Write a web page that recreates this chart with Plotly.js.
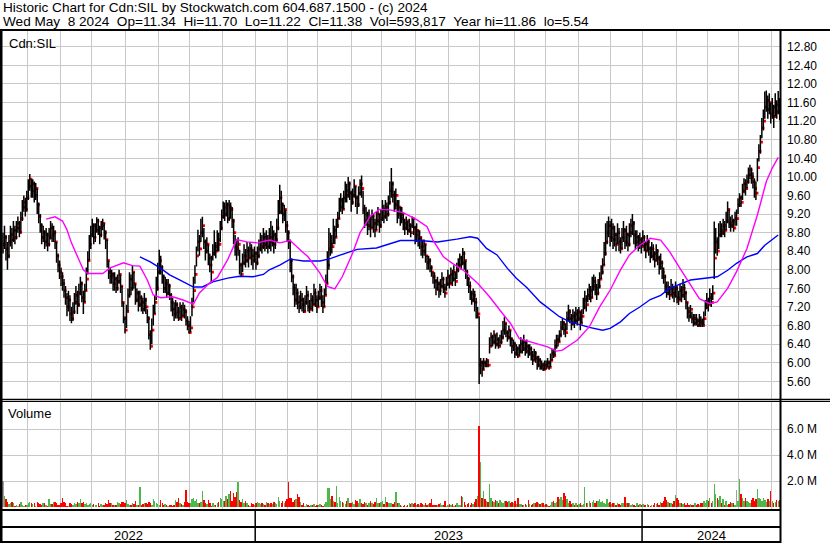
<!DOCTYPE html>
<html><head><meta charset="utf-8">
<script src="https://cdn.plot.ly/plotly-3.0.1.min.js"></script>
<style>html,body{margin:0;padding:0;background:#fff;}#chart{width:830px;height:543px;}</style>
</head><body><div id="chart"></div>
<script>
const startDate = '2022-05-09';
const endDate = '2024-05-08';
const symbol = 'Cdn:SIL';
const headerLine1 = 'Historic Chart for Cdn:SIL by Stockwatch.com 604.687.1500 - (c) 2024';
const headerLine2 = 'Wed May  8 2024  Op=11.34  Hi=11.70  Lo=11.22  Cl=11.38  Vol=593,817  Year hi=11.86  lo=5.54';

const closes = [
8.55,8.70,8.45,8.30,8.60,8.75,8.65,8.85,8.70,8.90,9.00,8.80,9.10,9.35,9.45,9.30,9.55,9.80,9.95,9.70,
9.85,9.60,9.75,9.40,9.15,8.95,8.70,8.80,8.60,8.75,8.55,8.70,8.90,8.75,8.80,8.60,8.30,8.10,7.95,7.85,
7.70,7.55,7.40,7.20,7.35,7.05,6.95,7.10,7.30,7.45,7.25,7.50,7.70,7.40,7.30,7.55,7.80,8.20,8.55,8.75,
8.95,8.70,8.85,9.05,8.90,8.75,8.95,9.00,8.80,8.65,8.20,7.95,7.85,7.90,7.70,7.80,7.60,7.75,7.90,7.65,
7.30,6.95,6.70,7.10,7.45,7.80,7.60,7.95,7.70,7.35,7.50,7.25,7.40,7.30,7.15,7.35,7.20,6.95,6.60,6.35,
6.70,7.05,7.30,7.60,7.95,8.20,8.05,7.85,7.60,7.70,7.50,7.65,7.45,7.30,7.15,7.05,7.25,7.10,6.95,7.20,
7.00,7.15,7.10,6.90,6.80,6.65,6.75,7.20,7.55,7.90,8.30,8.60,8.45,8.80,8.95,8.60,8.40,8.55,8.25,8.10,7.95,
8.35,8.50,8.40,8.65,8.55,8.90,9.15,9.35,9.20,9.40,9.10,9.35,9.30,9.05,8.80,8.50,8.45,8.55,8.10,7.90,
8.15,8.30,8.20,8.40,8.25,8.45,8.30,8.20,8.35,8.15,8.30,8.45,8.60,8.50,8.70,8.55,8.65,8.50,8.70,8.60,
8.75,8.55,8.65,8.90,9.25,9.55,9.40,9.20,9.30,8.95,8.80,8.60,8.20,7.85,7.60,7.35,7.50,7.30,7.20,7.35,
7.25,7.10,7.30,7.45,7.20,7.15,7.35,7.25,7.50,7.35,7.20,7.40,7.55,7.30,7.20,7.45,7.70,8.10,8.45,8.55,
8.50,8.85,8.70,8.95,9.10,9.35,9.50,9.30,9.55,9.70,9.60,9.85,9.65,9.45,9.60,9.80,9.55,9.40,9.65,9.85,
9.75,9.30,9.05,9.20,8.95,9.10,8.90,9.15,9.00,8.85,9.05,9.20,8.95,9.10,9.30,9.15,9.35,9.20,9.45,9.70,
9.85,9.60,9.40,9.60,9.20,9.35,9.10,9.20,9.00,8.90,9.05,8.85,8.95,8.80,9.10,8.90,8.75,8.85,8.65,8.70,8.50,
8.40,8.55,8.30,8.15,8.20,8.05,7.95,7.85,7.75,7.60,7.70,7.55,7.65,7.80,7.60,7.50,7.70,7.85,7.70,7.90,
7.80,7.95,7.75,8.00,8.10,8.25,8.15,8.35,8.20,7.95,7.80,7.65,7.50,7.35,7.45,7.30,7.00,7.05,5.95,6.00,
5.85,6.00,5.95,6.05,5.95,6.35,6.55,6.45,6.60,6.40,6.50,6.35,6.45,6.55,6.70,6.85,6.65,6.55,6.70,6.50,
6.35,6.40,6.20,6.30,6.15,6.25,6.40,6.30,6.45,6.25,6.35,6.20,6.30,6.15,6.05,6.20,6.10,5.95,6.05,5.90,
5.95,5.85,5.95,5.90,6.00,5.90,6.05,6.20,6.15,6.35,6.50,6.45,6.60,6.75,6.85,6.70,6.65,6.95,7.10,6.95,
6.85,7.00,6.90,7.05,6.95,7.10,6.85,7.00,7.20,7.35,7.25,7.45,7.55,7.40,7.65,7.75,7.60,7.50,7.65,7.80,
7.95,8.10,8.35,8.60,8.80,8.95,8.70,8.90,8.65,8.75,8.55,8.80,8.60,8.45,8.70,8.85,8.60,8.75,8.55,8.80,8.95,
9.00,8.75,8.60,8.70,8.55,8.65,8.50,8.70,8.55,8.40,8.60,8.45,8.30,8.45,8.35,8.20,8.40,8.25,8.05,8.15,
7.95,7.85,7.65,7.50,7.60,7.45,7.60,7.50,7.45,7.60,7.40,7.35,7.55,7.45,7.60,7.50,7.30,7.10,7.00,7.15,
6.95,6.85,6.95,6.90,6.80,6.90,6.85,6.80,6.95,7.20,7.30,7.25,7.40,7.30,7.50,8.25,8.60,8.40,8.75,8.85,
8.80,8.95,8.85,9.05,9.30,9.00,8.95,9.05,8.90,9.10,9.10,9.40,9.55,9.45,9.70,9.85,9.75,9.90,10.05,10.15,
10.00,9.90,9.75,9.65,10.20,10.55,10.75,11.05,11.20,11.50,11.65,11.45,11.60,11.35,11.50,11.30,11.55,11.40,11.65,11.38
];

const highs = [
8.80,8.95,8.75,8.60,8.75,8.95,8.90,9.05,8.95,9.05,9.15,9.05,9.25,9.50,9.60,9.55,9.70,9.95,10.06,9.95,
9.95,9.90,9.87,9.75,9.45,9.20,9.00,8.95,8.85,8.90,8.80,8.90,9.05,9.00,8.95,8.85,8.60,8.35,8.20,8.05,
7.95,7.80,7.65,7.50,7.55,7.45,7.20,7.30,7.50,7.65,7.55,7.70,7.85,7.75,7.55,7.70,8.05,8.40,8.75,8.95,
9.10,9.00,9.00,9.13,9.10,8.95,9.05,9.10,9.00,8.85,8.65,8.20,8.05,8.00,7.95,7.95,7.85,7.90,8.00,7.90,
7.65,7.30,7.00,7.25,7.60,7.95,7.90,8.10,7.95,7.70,7.60,7.55,7.55,7.45,7.40,7.50,7.40,7.15,7.00,6.70,
6.95,7.25,7.45,7.85,8.15,8.43,8.30,8.10,7.90,7.85,7.80,7.80,7.70,7.50,7.40,7.30,7.35,7.30,7.20,7.30,
7.25,7.30,7.25,7.15,7.00,6.90,7.00,7.40,7.85,8.10,8.50,8.86,8.75,9.10,9.14,8.90,8.65,8.70,8.55,8.35,8.30,
8.55,8.85,8.60,8.85,8.80,9.05,9.30,9.47,9.45,9.50,9.45,9.50,9.45,9.35,9.10,8.75,8.65,8.70,8.43,8.15,
8.35,8.55,8.45,8.60,8.50,8.60,8.55,8.45,8.50,8.40,8.50,8.65,8.80,8.75,8.90,8.80,8.85,8.75,8.90,9.05,
8.95,8.85,8.80,9.10,9.50,9.83,9.70,9.45,9.40,9.30,9.05,8.85,8.65,8.25,7.90,7.70,7.70,7.60,7.45,7.55,
7.50,7.40,7.45,7.65,7.55,7.35,7.50,7.45,7.70,7.60,7.45,7.55,7.70,7.65,7.45,7.60,7.90,8.40,8.90,8.80,
8.75,9.10,8.95,9.10,9.25,9.55,9.65,9.55,9.70,9.90,9.85,10.00,9.90,9.70,9.75,9.95,9.80,9.60,9.80,9.95,
10.03,9.70,9.40,9.35,9.25,9.30,9.15,9.30,9.20,9.10,9.25,9.35,9.20,9.30,9.50,9.40,9.50,9.45,9.60,9.90,
10.19,9.90,9.70,9.75,9.50,9.50,9.35,9.35,9.20,9.10,9.15,9.05,9.10,9.00,9.15,9.10,8.95,9.00,8.85,8.85,8.70,
8.65,8.65,8.55,8.30,8.30,8.25,8.10,7.95,7.95,7.80,7.85,7.75,7.80,7.95,7.85,7.70,7.85,8.00,7.90,8.05,
8.00,8.10,7.95,8.15,8.25,8.35,8.30,8.47,8.40,8.20,8.00,7.85,7.75,7.55,7.60,7.55,7.40,7.20,7.00,6.10,
6.05,6.10,6.05,6.10,6.05,6.55,6.65,6.60,6.70,6.60,6.65,6.55,6.60,6.70,6.90,6.99,6.85,6.70,6.80,6.70,
6.55,6.50,6.45,6.40,6.35,6.40,6.55,6.50,6.60,6.45,6.50,6.40,6.40,6.35,6.25,6.30,6.25,6.15,6.15,6.10,
6.05,6.00,6.05,6.05,6.10,6.05,6.20,6.30,6.30,6.50,6.60,6.60,6.70,6.90,6.95,6.90,6.85,7.10,7.25,7.15,
7.05,7.15,7.10,7.20,7.15,7.20,7.10,7.15,7.40,7.55,7.45,7.60,7.70,7.65,7.85,7.90,7.85,7.70,7.80,7.95,
8.10,8.25,8.60,9.00,9.05,9.15,9.05,9.10,9.00,8.95,8.80,9.00,8.90,8.70,8.90,9.05,8.90,8.95,8.80,9.00,9.10,
9.20,9.05,8.85,8.85,8.75,8.80,8.70,8.85,8.75,8.60,8.75,8.65,8.50,8.60,8.55,8.40,8.55,8.45,8.30,8.35,
8.20,8.05,7.90,7.75,7.75,7.65,7.80,7.70,7.65,7.75,7.65,7.55,7.70,7.65,7.80,7.70,7.55,7.30,7.20,7.24,
7.10,7.05,7.05,7.05,6.95,7.05,7.00,6.95,7.10,7.35,7.50,7.40,7.60,7.50,7.67,9.04,8.90,8.70,9.00,9.05,
9.00,9.10,9.05,9.25,9.47,9.30,9.15,9.18,9.10,9.25,9.30,9.54,9.65,9.60,9.85,9.97,9.95,10.05,10.20,10.26,
10.20,10.10,9.97,9.90,10.40,10.70,10.90,11.27,11.45,11.84,11.86,11.75,11.80,11.60,11.70,11.55,11.80,11.65,11.85,11.70
];

const lows = [
8.35,8.45,8.20,8.00,8.25,8.50,8.45,8.60,8.55,8.65,8.80,8.70,8.80,9.05,9.25,9.15,9.25,9.50,9.70,9.55,
9.55,9.45,9.50,9.20,9.00,8.80,8.55,8.60,8.45,8.50,8.40,8.50,8.65,8.60,8.60,8.45,8.15,7.95,7.80,7.65,
7.55,7.40,7.25,7.00,7.10,6.90,6.85,6.90,7.05,7.25,7.05,7.20,7.45,7.30,7.05,7.30,7.55,7.90,8.20,8.45,
8.70,8.55,8.60,8.80,8.75,8.55,8.70,8.85,8.65,8.45,8.05,7.80,7.70,7.70,7.55,7.55,7.50,7.55,7.70,7.50,
7.20,6.85,6.63,6.75,7.10,7.40,7.45,7.55,7.60,7.25,7.30,7.10,7.20,7.10,7.05,7.10,7.05,6.85,6.50,6.28,
6.40,6.80,7.05,7.35,7.55,7.90,7.90,7.70,7.50,7.50,7.40,7.45,7.35,7.10,7.00,6.90,6.95,6.95,6.90,6.95,
6.90,7.00,6.95,6.80,6.70,6.63,6.65,7.00,7.30,7.70,8.07,8.40,8.30,8.60,8.70,8.45,8.20,8.35,8.10,7.95,7.74,
8.20,8.30,8.25,8.40,8.40,8.60,8.85,9.10,9.05,9.15,9.00,9.05,9.10,8.90,8.55,8.30,8.20,8.30,7.90,7.85,
7.95,8.10,8.05,8.15,8.05,8.25,8.10,8.00,8.15,8.00,8.10,8.25,8.40,8.35,8.45,8.40,8.45,8.35,8.45,8.40,
8.50,8.35,8.45,8.60,8.85,9.20,9.20,9.00,9.05,8.80,8.60,8.45,7.95,7.73,7.45,7.20,7.25,7.15,7.07,7.15,
7.10,7.07,7.10,7.25,7.10,7.07,7.15,7.10,7.25,7.20,7.07,7.20,7.35,7.20,7.07,7.20,7.45,7.70,8.00,8.30,
8.35,8.55,8.55,8.70,8.90,9.10,9.25,9.20,9.30,9.45,9.45,9.55,9.50,9.25,9.40,9.55,9.35,9.20,9.35,9.60,
9.55,9.20,8.90,8.95,8.75,8.85,8.70,8.90,8.80,8.70,8.85,8.95,8.80,8.90,9.05,9.00,9.10,9.05,9.15,9.40,
9.55,9.45,9.25,9.30,9.00,9.10,8.95,9.00,8.85,8.75,8.85,8.75,8.80,8.70,8.90,8.75,8.55,8.60,8.50,8.45,8.30,
8.25,8.30,8.15,8.00,8.00,7.95,7.85,7.70,7.60,7.45,7.55,7.40,7.45,7.60,7.50,7.40,7.55,7.65,7.60,7.70,
7.65,7.75,7.65,7.80,7.95,8.05,8.00,8.10,8.00,7.80,7.65,7.50,7.35,7.25,7.30,7.10,6.95,6.95,5.54,5.75,
5.70,5.85,5.90,5.90,5.90,6.20,6.35,6.35,6.40,6.30,6.35,6.30,6.35,6.40,6.50,6.60,6.55,6.45,6.50,6.35,
6.20,6.25,6.10,6.15,6.10,6.15,6.20,6.20,6.25,6.15,6.20,6.10,6.15,6.05,5.95,6.05,6.00,5.85,5.90,5.85,
5.85,5.82,5.85,5.85,5.90,5.85,5.90,6.05,6.10,6.15,6.30,6.35,6.45,6.55,6.70,6.60,6.55,6.70,6.90,6.85,
6.70,6.80,6.75,6.85,6.80,6.90,6.70,6.85,7.05,7.15,7.10,7.30,7.35,7.30,7.40,7.55,7.45,7.35,7.45,7.60,
7.80,7.90,8.10,8.30,8.55,8.70,8.50,8.60,8.45,8.50,8.40,8.55,8.40,8.35,8.45,8.60,8.45,8.50,8.40,8.50,8.70,
8.75,8.55,8.45,8.50,8.40,8.45,8.35,8.50,8.40,8.25,8.40,8.30,8.15,8.25,8.20,8.05,8.20,8.10,7.90,8.00,
7.80,7.70,7.50,7.40,7.45,7.35,7.45,7.38,7.30,7.40,7.28,7.24,7.35,7.30,7.40,7.35,7.15,6.95,6.88,6.95,
6.85,6.78,6.80,6.80,6.77,6.78,6.77,6.77,6.80,7.00,7.15,7.10,7.25,7.20,7.35,7.80,8.35,8.30,8.45,8.70,
8.70,8.75,8.70,8.85,9.00,8.90,8.82,8.90,8.82,8.95,8.95,9.20,9.35,9.35,9.50,9.65,9.60,9.75,9.85,9.95,
9.85,9.75,9.55,9.50,9.90,10.33,10.50,10.83,11.00,11.25,11.40,11.25,11.35,11.15,11.25,11.05,11.30,11.25,11.35,11.22
];

// daily volume, millions of shares
const volumes = [
2.0,0.87,0.60,0.40,0.22,0.35,0.40,0.30,0.12,0.15,0.10,0.25,0.40,0.18,0.12,0.20,0.15,0.35,0.40,0.30,
0.22,0.30,0.12,0.40,0.35,0.25,0.15,0.30,0.35,0.20,0.12,0.67,0.22,0.25,0.40,0.38,0.30,0.18,0.15,0.35,
0.75,0.40,0.30,0.12,0.10,0.30,0.22,0.15,0.35,0.25,0.40,0.30,0.67,0.35,0.40,0.25,0.30,0.15,0.22,0.30,
0.18,0.25,0.15,0.20,0.30,0.12,0.22,0.20,0.15,0.30,0.25,0.56,0.35,0.30,0.20,0.15,0.18,0.40,0.35,0.22,
0.40,0.38,0.30,0.56,0.25,0.18,0.15,0.30,0.22,0.50,0.20,0.15,1.56,0.18,0.25,0.30,0.35,0.28,0.40,0.35,
0.20,0.60,0.45,0.30,0.25,0.20,0.56,0.30,0.15,0.22,0.18,0.12,0.15,0.20,0.12,0.15,0.56,0.40,0.72,0.35,
0.25,0.20,0.40,1.30,0.40,0.35,0.30,0.60,0.75,0.45,0.60,0.35,0.30,0.40,1.25,0.55,0.30,0.22,0.56,0.35,
0.12,0.30,0.20,0.15,0.35,0.40,0.75,0.60,0.50,0.45,0.85,0.60,1.00,1.25,0.45,1.10,0.80,1.20,1.95,0.55,
0.40,0.60,0.30,0.45,0.35,0.15,0.12,0.30,0.25,0.20,0.35,0.40,0.30,0.25,0.35,0.22,0.18,0.40,0.30,0.28,
0.35,0.22,0.40,0.30,0.25,0.82,0.50,0.30,0.45,0.35,0.50,0.60,1.95,0.75,0.75,0.40,0.55,0.60,1.00,0.80,
0.40,0.20,0.30,0.12,0.25,0.15,0.12,0.20,0.15,0.22,0.12,0.20,0.15,0.22,0.18,0.12,0.25,0.40,1.50,1.45,
0.60,0.90,0.45,0.40,1.60,0.35,0.82,0.45,0.40,0.30,0.25,0.45,0.70,0.35,0.30,0.40,0.25,0.55,0.45,0.30,
0.67,0.35,0.25,0.40,0.30,0.20,0.35,0.45,0.30,0.25,0.40,0.70,0.35,0.30,0.40,0.45,0.25,0.78,0.40,0.35,
0.30,0.35,0.25,0.40,1.20,0.35,0.30,0.20,0.12,0.10,0.15,0.12,0.20,0.35,0.28,0.30,0.22,0.35,0.15,0.28,
0.20,0.35,0.25,0.20,0.30,0.15,0.25,0.35,0.60,0.20,0.15,0.20,0.15,0.25,0.30,0.15,0.20,0.50,0.10,0.20,
0.25,0.15,0.22,0.10,0.20,0.30,0.15,0.20,0.87,0.80,0.40,0.20,0.25,0.30,0.20,0.35,0.25,0.40,0.60,0.87,
6.26,3.50,0.74,1.25,0.60,0.45,0.40,1.77,0.70,0.45,0.40,0.55,0.45,0.35,0.55,0.40,0.30,0.45,0.50,0.40,
0.45,0.35,0.40,0.30,0.45,0.25,0.70,0.22,0.25,0.20,0.15,0.22,0.20,0.56,0.25,0.20,0.25,0.30,0.35,0.40,
0.30,0.25,0.35,0.30,0.20,0.25,0.15,0.10,0.20,0.40,0.45,0.30,0.40,0.80,0.60,0.80,0.55,1.13,0.87,0.60,
0.30,0.45,0.25,0.35,0.20,0.30,0.15,0.25,0.30,0.20,0.25,1.56,0.35,0.30,0.45,0.35,0.40,0.55,0.30,0.45,
0.50,0.60,0.40,0.45,0.30,0.25,0.60,0.35,0.40,0.25,0.35,0.30,0.20,0.30,0.25,0.20,0.35,0.30,0.80,0.35,
0.30,0.35,0.20,0.25,0.15,0.10,0.30,0.20,0.25,0.15,0.25,0.20,0.15,0.25,0.18,0.10,0.20,0.15,0.30,0.25,
0.35,0.20,0.40,0.30,0.45,0.80,0.55,0.40,0.30,0.35,0.25,0.45,0.92,0.70,0.55,0.30,0.35,0.25,0.30,0.15,
0.30,0.20,0.25,0.15,0.20,0.30,0.15,0.25,0.20,0.35,0.30,0.45,0.30,0.55,0.50,0.70,0.30,0.45,1.77,1.05,
0.70,0.55,0.85,0.30,0.65,0.20,0.50,0.15,0.25,0.40,0.30,0.35,0.20,1.33,0.50,2.20,1.00,0.70,0.45,0.70,
0.50,0.40,0.35,0.55,0.70,0.45,0.60,1.38,0.70,0.65,0.50,0.70,0.55,0.40,0.60,0.45,1.25,0.50,0.35,0.40,
0.55,0.45,0.59
];

// moving averages (trading-day index, value)
const maShortDays = [29,35,40,43,46,50,54,57,67,72,77,81,87,92,97,101,106,114,121,128,132,139,144,151,157,164,171,179,186,193,200,205,213,218,223,228,235,240,247,253,260,269,278,285,289,296,302,309,319,327,334,341,347,354,366,372,376,386,394,401,408,415,421,428,435,442,448,455,462,468,475,480,487,493,500,507,513,517,521];
const maShortVals = [9.09,9.14,9.05,8.86,8.58,8.28,8.00,7.92,7.92,8.04,8.10,8.15,8.09,8.08,7.78,7.46,7.40,7.42,7.35,7.26,7.50,7.72,7.83,8.22,8.65,8.60,8.58,8.64,8.58,8.63,8.42,8.28,7.93,7.64,7.59,7.85,8.36,8.80,9.16,9.30,9.29,9.23,9.08,8.93,8.64,8.28,8.14,8.00,7.71,7.42,7.13,6.85,6.52,6.45,6.34,6.25,6.27,6.49,6.77,7.20,7.56,8.00,8.32,8.53,8.68,8.64,8.39,8.03,7.67,7.38,7.27,7.31,7.60,7.96,8.46,9.18,9.90,10.19,10.42];
const maLongDays = [92,99,106,112,119,128,134,141,151,159,168,175,179,186,193,202,213,220,226,238,251,267,280,292,305,314,319,325,332,339,345,352,361,368,374,381,388,394,403,408,415,421,428,435,442,448,462,473,480,487,493,500,507,512,521];
const maLongVals = [8.28,8.17,8.03,7.89,7.78,7.63,7.63,7.74,7.82,7.86,7.85,7.90,8.00,8.10,8.23,8.19,8.19,8.24,8.31,8.44,8.47,8.63,8.63,8.60,8.66,8.71,8.68,8.46,8.32,8.03,7.82,7.62,7.31,7.13,6.99,6.88,6.81,6.76,6.70,6.74,6.88,7.06,7.20,7.36,7.45,7.60,7.78,7.83,7.85,7.99,8.14,8.28,8.35,8.53,8.75];

const priceTicks = [5.6,6.0,6.4,6.8,7.2,7.6,8.0,8.4,8.8,9.2,9.6,10.0,10.4,10.8,11.2,11.6,12.0,12.4,12.8];
const priceTickText = ['5.60','6.00','6.40','6.80','7.20','7.60','8.00','8.40','8.80','9.20','9.60','10.00','10.40','10.80','11.20','11.60','12.00','12.40','12.80'];
const volTicks = [2,4,6];
const volTickText = ['2.0 M','4.0 M','6.0 M'];

// ---- trading calendar (weekdays) ----
const dates = [];
for (let t = Date.parse(startDate + 'T00:00:00Z'); t <= Date.parse(endDate + 'T00:00:00Z'); t += 86400000) {
  const dd = new Date(t); const wd = dd.getUTCDay();
  if (wd !== 0 && wd !== 6) dates.push(dd.toISOString().slice(0, 10));
}
const n = closes.length;
const idx = closes.map((_, i) => i);
const monthBounds = [], yearBounds = [], years = [dates[0].slice(0, 4)];
for (let i = 1; i < Math.min(n, dates.length); i++) {
  if (dates[i].slice(0, 7) !== dates[i - 1].slice(0, 7)) monthBounds.push(i - 0.5);
  if (dates[i].slice(0, 4) !== dates[i - 1].slice(0, 4)) { yearBounds.push(i - 0.5); years.push(dates[i].slice(0, 4)); }
}

// ---- geometry (pixels) ----
const W = 830, H = 543, M = {l: 2, r: 50, t: 31, b: 33};
const PW = W - M.l - M.r, PH = H - M.t - M.b;
const pxX = x => (x - M.l) / PW;
const pxY = y => (H - M.b - y) / PH;
const xRange = [-0.67, n - 1 + 0.2];

const volColors = volumes.map((v, i) => {
  if (i === 0 || closes[i] === closes[i - 1]) return '#a0a0a0';
  return closes[i] > closes[i - 1] ? '#4cb84c' : '#ff0000';
});

const traces = [
  // close marks (drawn first, on the right side of each bar)
  {type: 'scatter', mode: 'markers', x: idx.map(i => i + 0.8), y: closes, xaxis: 'x', yaxis: 'y',
   marker: {symbol: 'square', size: 2.8, color: '#ff0000', line: {width: 0}}, hoverinfo: 'skip'},
  // high-low bars
  {type: 'scatter', mode: 'markers', x: idx, y: closes, xaxis: 'x', yaxis: 'y',
   marker: {size: 0.1, opacity: 0, color: '#000'},
   error_y: {type: 'data', symmetric: false,
     array: highs.map((h, i) => h - closes[i]), arrayminus: lows.map((l, i) => closes[i] - l),
     color: '#000000', thickness: 1.5, width: 0},
   hoverinfo: 'skip'},
  {type: 'scatter', mode: 'lines', x: maLongDays, y: maLongVals, xaxis: 'x', yaxis: 'y',
   line: {color: '#0000ff', width: 1.4}, hoverinfo: 'skip'},
  {type: 'scatter', mode: 'lines', x: maShortDays, y: maShortVals, xaxis: 'x', yaxis: 'y',
   line: {color: '#ff00ff', width: 1.4}, hoverinfo: 'skip'},
  {type: 'bar', x: idx, y: volumes, xaxis: 'x2', yaxis: 'y2', width: 0.95,
   marker: {color: volColors, line: {width: 0}}, hoverinfo: 'skip'}
];

const gridColor = '#c8c8c8';
const xCommon = {range: xRange, tickvals: monthBounds, showticklabels: false, ticks: '', showgrid: true,
  gridcolor: gridColor, gridwidth: 1, zeroline: false, showline: false, fixedrange: true};
const layout = {
  width: W, height: H, margin: M, paper_bgcolor: '#ffffff', plot_bgcolor: '#ffffff', showlegend: false,
  hovermode: false,
  font: {family: '"Liberation Sans", Arial, sans-serif', size: 12, color: '#000000'},
  xaxis: Object.assign({anchor: 'y', domain: [0, 1]}, xCommon),
  xaxis2: Object.assign({anchor: 'y2', domain: [0, 1]}, xCommon),
  yaxis: {domain: [pxY(398.5), 1], range: [5.23, 13.14], side: 'right', tickvals: priceTicks, ticktext: priceTickText,
    showgrid: true, gridcolor: gridColor, zeroline: false, ticks: '', showline: false, ticklabelstandoff: 6,
    tickfont: {size: 12}},
  yaxis2: {domain: [0, pxY(402)], range: [-0.21, 8.1], side: 'right', tickvals: volTicks, ticktext: volTickText,
    showgrid: true, gridcolor: gridColor, zeroline: false, ticks: '', showline: false, ticklabelstandoff: 6,
    tickfont: {size: 12}},
  bargap: 0,
  shapes: [],
  annotations: []
};

const black = {color: '#000000'};
function hline(y, x0, x1, w) {
  layout.shapes.push({type: 'line', xref: 'paper', yref: 'paper', x0: pxX(x0), x1: pxX(x1), y0: pxY(y), y1: pxY(y), line: Object.assign({width: w}, black)});
}
function vline(x, y0, y1, w) {
  layout.shapes.push({type: 'line', xref: 'paper', yref: 'paper', x0: pxX(x), x1: pxX(x), y0: pxY(y0), y1: pxY(y1), line: Object.assign({width: w}, black)});
}
hline(30, 0, 830, 2);
hline(399.5, 0, 830, 1.5);
hline(401.5, 0, 830, 1);
hline(510, 0, 781, 2);
hline(527, 0, 781, 2);
hline(542, 0, 781, 2);
vline(1, 30, 543, 3);
vline(780.5, 30, 543, 2);
yearBounds.forEach(b => layout.shapes.push({type: 'line', xref: 'x', yref: 'paper', x0: b, x1: b,
  y0: pxY(543), y1: pxY(510), line: {width: 1.5, color: '#000000'}}));

function txt(text, x, y, size, anchor) {
  layout.annotations.push({text: text.replace(/ /g, '\u00a0'), xref: 'paper', yref: 'paper', x: pxX(x), y: pxY(y),
    xanchor: anchor || 'left', yanchor: 'middle', showarrow: false, borderpad: 0, font: {size: size, color: '#000'}});
}
txt(headerLine1, 2, 8, 13.6);
txt(headerLine2, 2, 22, 13.6);
txt(symbol, 8, 43, 13);
txt('Volume', 7, 413, 13);
const segs = [xRange[0]].concat(yearBounds, [xRange[1]]);
years.forEach((y, k) => layout.annotations.push({text: y, xref: 'x', yref: 'paper', x: (segs[k] + segs[k + 1]) / 2,
  y: pxY(535), xanchor: 'center', yanchor: 'middle', showarrow: false, font: {size: 13, color: '#000'}}));

Plotly.newPlot('chart', traces, layout, {staticPlot: true, displayModeBar: false});
</script>
</body></html>
